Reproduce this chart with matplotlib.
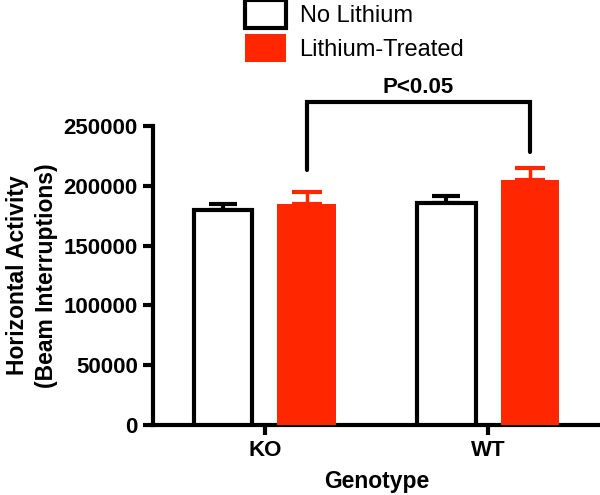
import numpy as np
import matplotlib
matplotlib.use("Agg")
import matplotlib.pyplot as plt

plt.rcParams['font.family'] = ['Liberation Sans', 'DejaVu Sans']

# data
genotypes = ["KO", "WT"]
no_lithium = [180000, 186000]
no_lithium_err = [5000, 5500]
lithium = [184500, 204500]
lithium_err = [10000, 10500]
p_text = "P<0.05"

red = '#ff2600'
x = np.arange(len(genotypes))
off = 0.187
w = 0.26

fig = plt.figure(figsize=(6, 4.95), dpi=100)
ax = fig.add_axes([153/600, 70/495, 447/600, 299/495])

b1 = ax.bar(x - off, no_lithium, w, color='white', edgecolor='black', linewidth=3,
            label='No Lithium', zorder=3)
b2 = ax.bar(x + off, lithium, w, color=red, edgecolor=red, linewidth=0,
            label='Lithium-Treated', zorder=3)
zero = np.zeros(len(x))
ax.errorbar(x - off, no_lithium, yerr=[zero, no_lithium_err], fmt='none', ecolor='black',
            elinewidth=3, capsize=10, capthick=3, zorder=2)
ax.errorbar(x + off, lithium, yerr=[zero, lithium_err], fmt='none', ecolor=red,
            elinewidth=2.5, capsize=11, capthick=3, zorder=2)

# significance bracket between the two lithium bars
top = 270000
y_left = lithium[0] + lithium_err[0] + 19000
y_right = lithium[1] + lithium_err[1] + 13500
ax.plot([x[0] + off, x[0] + off, x[1] + off, x[1] + off], [y_left, top, top, y_right],
        color='black', lw=3, clip_on=False, solid_capstyle='round', solid_joinstyle='miter')
ax.text((x[0] + x[1]) / 2 + off, top + 3500, p_text, ha='center', va='bottom',
        fontsize=16, fontweight='bold')

ax.set_xlim(-0.5, 1.5)
ax.set_ylim(0, 250000)
ax.set_yticks(np.arange(0, 250001, 50000))
ax.set_yticklabels([str(v) for v in range(0, 250001, 50000)])
ax.set_xticks(x)
ax.set_xticklabels(genotypes)
for s in ['top', 'right']:
    ax.spines[s].set_visible(False)
for s in ['left', 'bottom']:
    ax.spines[s].set_linewidth(3)
ax.tick_params(direction='out', length=7, width=3, labelsize=16, pad=4)
for lab in ax.get_xticklabels() + ax.get_yticklabels():
    lab.set_fontweight('bold')

ax.set_xlabel("Genotype", fontsize=16.5, fontweight='bold', labelpad=6)
ax.set_ylabel("Horizontal Activity\n(Beam Interruptions)", fontsize=16.5, fontweight='bold',
              labelpad=4, linespacing=1.35)

fig.legend(handles=[b1, b2], loc='upper left', bbox_to_anchor=(245/600, 1.0),
           frameon=False, fontsize=17, handlelength=1.74, handleheight=1.45,
           handletextpad=0.57, labelspacing=0.27, borderpad=0, borderaxespad=0)

fig.savefig("out.png", dpi=100)
